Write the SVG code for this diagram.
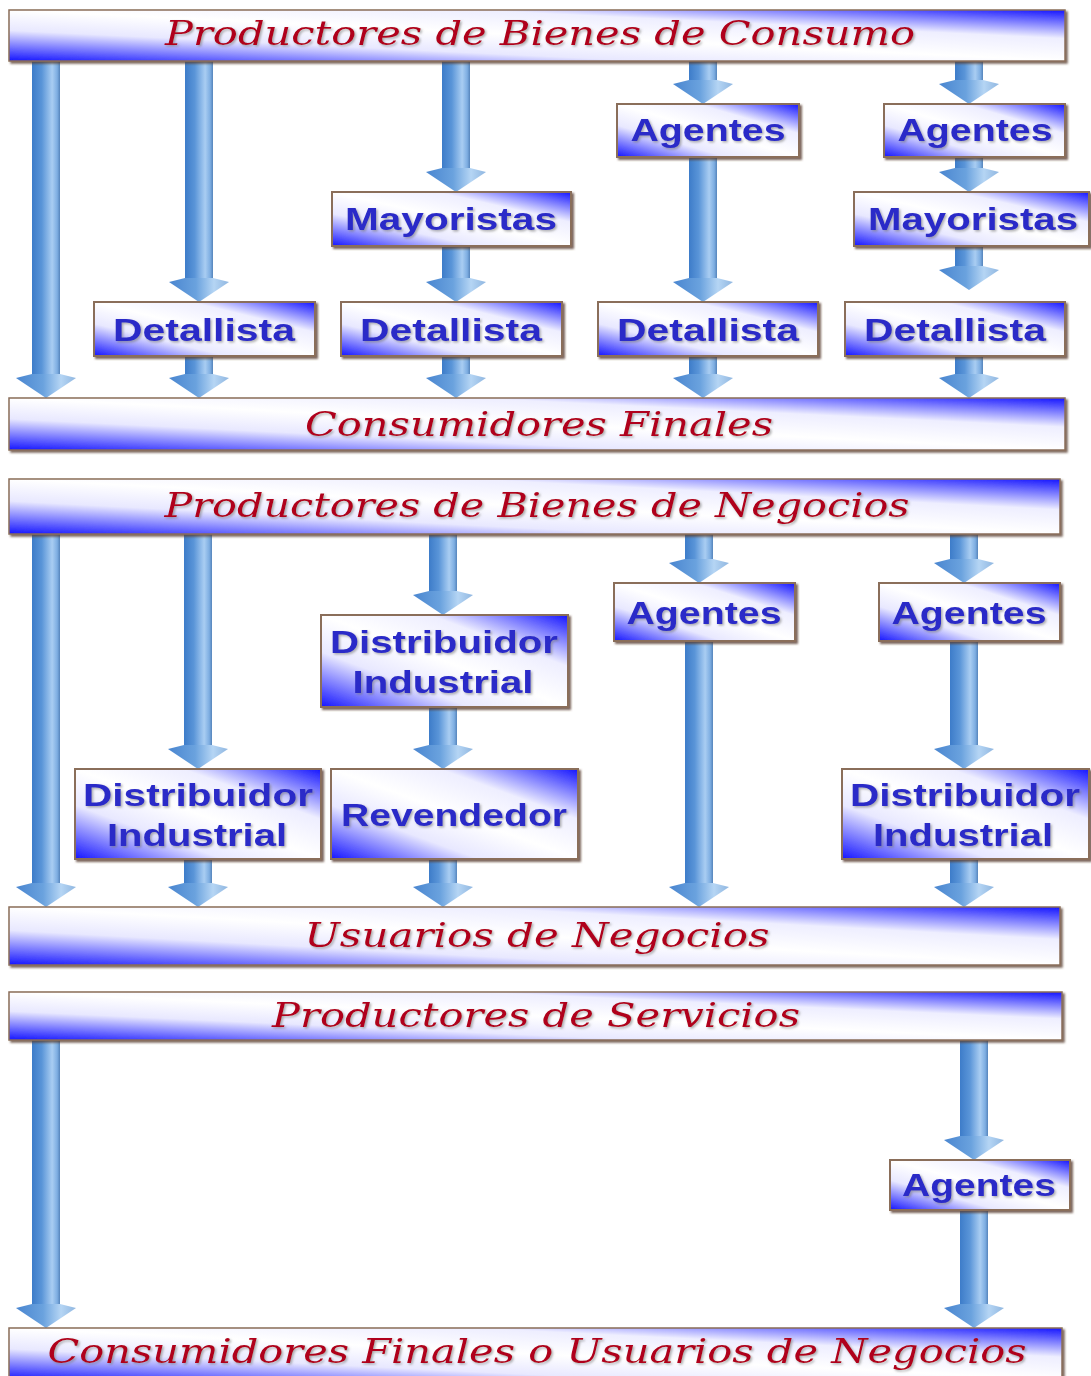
<svg xmlns="http://www.w3.org/2000/svg" width="1091" height="1376" viewBox="0 0 1091 1376">
<defs>
<linearGradient id="gBox" x1="0" y1="1" x2="1" y2="0">
<stop offset="0" stop-color="#1414ff"/>
<stop offset="0.3" stop-color="#e8e8ff"/>
<stop offset="0.5" stop-color="#ffffff"/>
<stop offset="0.72" stop-color="#eeeeff"/>
<stop offset="1" stop-color="#1414ff"/>
</linearGradient>
<linearGradient id="gShaft" x1="0" y1="0" x2="1" y2="0">
<stop offset="0" stop-color="#3d7cc9"/>
<stop offset="0.35" stop-color="#5a95d8"/>
<stop offset="0.72" stop-color="#a9cdf2"/>
<stop offset="0.9" stop-color="#7eaee2"/>
<stop offset="1" stop-color="#5584bb"/>
</linearGradient>
<linearGradient id="gHead" x1="0" y1="0" x2="1" y2="0">
<stop offset="0" stop-color="#4a86d0"/>
<stop offset="0.45" stop-color="#6aa2de"/>
<stop offset="0.75" stop-color="#b5d5f4"/>
<stop offset="1" stop-color="#8fb6e0"/>
</linearGradient>
<filter id="tsh" x="-5%" y="-20%" width="110%" height="150%">
<feDropShadow dx="1.5" dy="1.5" stdDeviation="0.8" flood-color="#777" flood-opacity="0.6"/>
</filter>
<filter id="bsh" x="-5%" y="-10%" width="110%" height="130%">
<feDropShadow dx="2" dy="2" stdDeviation="1" flood-color="#5a4030" flood-opacity="0.8"/>
</filter>
</defs>
<style>
.bar{fill:url(#gBox);stroke:#8a6e5a;stroke-width:1.5;filter:url(#bsh)}
.box{fill:url(#gBox);stroke:#8a6e5a;stroke-width:2;filter:url(#bsh)}
.bt{font-family:"DejaVu Serif","Liberation Serif",serif;font-style:italic;font-size:34px;fill:#b0001a;text-anchor:middle;filter:url(#tsh)}
.nt{font-family:"Liberation Sans",Arial,sans-serif;font-weight:bold;font-size:32px;fill:#2a2ac8;text-anchor:middle;filter:url(#tsh)}
.sh{fill:url(#gShaft)}
.hd{fill:url(#gHead)}
</style>
<rect width="1091" height="1376" fill="#ffffff"/>

<g id="connectors">
<!-- section 1 -->
<g id="a1"><rect class="sh" x="32" y="61" width="28" height="315"/><polygon class="hd" points="32,374 60,374 76,378 46,398 16,378"/></g>
<g id="a2"><rect class="sh" x="185" y="61" width="28" height="219"/><polygon class="hd" points="185,278 213,278 229,282 199,302 169,282"/></g>
<g id="a3"><rect class="sh" x="442" y="61" width="28" height="109"/><polygon class="hd" points="442,168 470,168 486,172 456,192 426,172"/></g>
<g id="a4"><rect class="sh" x="689" y="61" width="28" height="21"/><polygon class="hd" points="689,80 717,80 733,84 703,104 673,84"/></g>
<g id="a5"><rect class="sh" x="955" y="61" width="28" height="21"/><polygon class="hd" points="955,80 983,80 999,84 969,104 939,84"/></g>
<g id="a6"><rect class="sh" x="442" y="246" width="28" height="34"/><polygon class="hd" points="442,278 470,278 486,282 456,302 426,282"/></g>
<g id="a7"><rect class="sh" x="689" y="157" width="28" height="123"/><polygon class="hd" points="689,278 717,278 733,282 703,302 673,282"/></g>
<g id="a8"><rect class="sh" x="955" y="157" width="28" height="13"/><polygon class="hd" points="955,168 983,168 999,172 969,192 939,172"/></g>
<g id="a9"><rect class="sh" x="955" y="246" width="28" height="22"/><polygon class="hd" points="955,266 983,266 999,270 969,290 939,270"/></g>
<g id="a10"><rect class="sh" x="185" y="356" width="28" height="20"/><polygon class="hd" points="185,374 213,374 229,378 199,398 169,378"/></g>
<g id="a11"><rect class="sh" x="442" y="356" width="28" height="20"/><polygon class="hd" points="442,374 470,374 486,378 456,398 426,378"/></g>
<g id="a12"><rect class="sh" x="689" y="356" width="28" height="20"/><polygon class="hd" points="689,374 717,374 733,378 703,398 673,378"/></g>
<g id="a13"><rect class="sh" x="955" y="356" width="28" height="20"/><polygon class="hd" points="955,374 983,374 999,378 969,398 939,378"/></g>
<!-- section 2 -->
<g id="b1"><rect class="sh" x="32" y="534" width="28" height="351"/><polygon class="hd" points="32,883 60,883 76,887 46,907 16,887"/></g>
<g id="b2"><rect class="sh" x="184" y="534" width="28" height="213"/><polygon class="hd" points="184,745 212,745 228,749 198,769 168,749"/></g>
<g id="b3"><rect class="sh" x="429" y="534" width="28" height="59"/><polygon class="hd" points="429,591 457,591 473,595 443,615 413,595"/></g>
<g id="b4"><rect class="sh" x="685" y="534" width="28" height="27"/><polygon class="hd" points="685,559 713,559 729,563 699,583 669,563"/></g>
<g id="b5"><rect class="sh" x="950" y="534" width="28" height="27"/><polygon class="hd" points="950,559 978,559 994,563 964,583 934,563"/></g>
<g id="b6"><rect class="sh" x="429" y="707" width="28" height="40"/><polygon class="hd" points="429,745 457,745 473,749 443,769 413,749"/></g>
<g id="b7"><rect class="sh" x="685" y="641" width="28" height="244"/><polygon class="hd" points="685,883 713,883 729,887 699,907 669,887"/></g>
<g id="b8"><rect class="sh" x="950" y="641" width="28" height="106"/><polygon class="hd" points="950,745 978,745 994,749 964,769 934,749"/></g>
<g id="b9"><rect class="sh" x="184" y="859" width="28" height="26"/><polygon class="hd" points="184,883 212,883 228,887 198,907 168,887"/></g>
<g id="b10"><rect class="sh" x="429" y="859" width="28" height="26"/><polygon class="hd" points="429,883 457,883 473,887 443,907 413,887"/></g>
<g id="b11"><rect class="sh" x="950" y="859" width="28" height="26"/><polygon class="hd" points="950,883 978,883 994,887 964,907 934,887"/></g>
<!-- section 3 -->
<g id="c1"><rect class="sh" x="32" y="1040" width="28" height="266"/><polygon class="hd" points="32,1304 60,1304 76,1308 46,1328 16,1308"/></g>
<g id="c2"><rect class="sh" x="960" y="1040" width="28" height="98"/><polygon class="hd" points="960,1136 988,1136 1004,1140 974,1160 944,1140"/></g>
<g id="c3"><rect class="sh" x="960" y="1210" width="28" height="96"/><polygon class="hd" points="960,1304 988,1304 1004,1308 974,1328 944,1308"/></g>
</g>

<!-- Section 1 -->
<g id="prod-consumo"><rect class="bar" x="9" y="10" width="1056" height="51"/><text class="bt" x="540" y="45" textLength="750" lengthAdjust="spacingAndGlyphs">Productores de Bienes de Consumo</text></g>
<g id="agentes1"><rect class="box" x="617" y="104" width="182" height="53"/><text class="nt" x="708" y="141" textLength="155" lengthAdjust="spacingAndGlyphs">Agentes</text></g>
<g id="agentes2"><rect class="box" x="884" y="104" width="181" height="53"/><text class="nt" x="975" y="141" textLength="155" lengthAdjust="spacingAndGlyphs">Agentes</text></g>
<g id="mayoristas1"><rect class="box" x="332" y="192" width="239" height="54"/><text class="nt" x="451" y="230" textLength="212" lengthAdjust="spacingAndGlyphs">Mayoristas</text></g>
<g id="mayoristas2"><rect class="box" x="854" y="192" width="235" height="54"/><text class="nt" x="973" y="230" textLength="210" lengthAdjust="spacingAndGlyphs">Mayoristas</text></g>
<g id="detallista1"><rect class="box" x="94" y="302" width="221" height="54"/><text class="nt" x="204" y="341" textLength="182" lengthAdjust="spacingAndGlyphs">Detallista</text></g>
<g id="detallista2"><rect class="box" x="341" y="302" width="221" height="54"/><text class="nt" x="451" y="341" textLength="182" lengthAdjust="spacingAndGlyphs">Detallista</text></g>
<g id="detallista3"><rect class="box" x="598" y="302" width="220" height="54"/><text class="nt" x="708" y="341" textLength="182" lengthAdjust="spacingAndGlyphs">Detallista</text></g>
<g id="detallista4"><rect class="box" x="845" y="302" width="220" height="54"/><text class="nt" x="955" y="341" textLength="182" lengthAdjust="spacingAndGlyphs">Detallista</text></g>
<g id="consumidores"><rect class="bar" x="9" y="398" width="1056" height="52"/><text class="bt" x="539" y="436" textLength="468" lengthAdjust="spacingAndGlyphs">Consumidores Finales</text></g>

<!-- Section 2 -->
<g id="prod-negocios"><rect class="bar" x="9" y="479" width="1051" height="55"/><text class="bt" x="537" y="517" textLength="745" lengthAdjust="spacingAndGlyphs">Productores de Bienes de Negocios</text></g>
<g id="distribuidor-c"><rect class="box" x="321" y="615" width="247" height="92"/><text class="nt" x="444" y="653" textLength="228" lengthAdjust="spacingAndGlyphs">Distribuidor</text><text class="nt" x="443" y="693" textLength="181" lengthAdjust="spacingAndGlyphs">Industrial</text></g>
<g id="agentes3"><rect class="box" x="614" y="583" width="181" height="58"/><text class="nt" x="704" y="624" textLength="155" lengthAdjust="spacingAndGlyphs">Agentes</text></g>
<g id="agentes4"><rect class="box" x="879" y="583" width="181" height="58"/><text class="nt" x="969" y="624" textLength="155" lengthAdjust="spacingAndGlyphs">Agentes</text></g>
<g id="distribuidor-l"><rect class="box" x="75" y="769" width="246" height="90"/><text class="nt" x="198" y="806" textLength="230" lengthAdjust="spacingAndGlyphs">Distribuidor</text><text class="nt" x="197" y="846" textLength="180" lengthAdjust="spacingAndGlyphs">Industrial</text></g>
<g id="revendedor"><rect class="box" x="331" y="769" width="247" height="90"/><text class="nt" x="454" y="826" textLength="226" lengthAdjust="spacingAndGlyphs">Revendedor</text></g>
<g id="distribuidor-r"><rect class="box" x="842" y="769" width="247" height="90"/><text class="nt" x="965" y="806" textLength="230" lengthAdjust="spacingAndGlyphs">Distribuidor</text><text class="nt" x="963" y="846" textLength="180" lengthAdjust="spacingAndGlyphs">Industrial</text></g>
<g id="usuarios"><rect class="bar" x="9" y="907" width="1051" height="58"/><text class="bt" x="537" y="947" textLength="465" lengthAdjust="spacingAndGlyphs">Usuarios de Negocios</text></g>

<!-- Section 3 -->
<g id="prod-servicios"><rect class="bar" x="9" y="992" width="1053" height="48"/><text class="bt" x="536" y="1027" textLength="528" lengthAdjust="spacingAndGlyphs">Productores de Servicios</text></g>
<g id="agentes5"><rect class="box" x="890" y="1160" width="180" height="50"/><text class="nt" x="979" y="1196" textLength="154" lengthAdjust="spacingAndGlyphs">Agentes</text></g>
<g id="consumidores-usuarios"><rect class="bar" x="9" y="1328" width="1053" height="52"/><text class="bt" x="537" y="1363" textLength="979" lengthAdjust="spacingAndGlyphs">Consumidores Finales o Usuarios de Negocios</text></g>
</svg>
